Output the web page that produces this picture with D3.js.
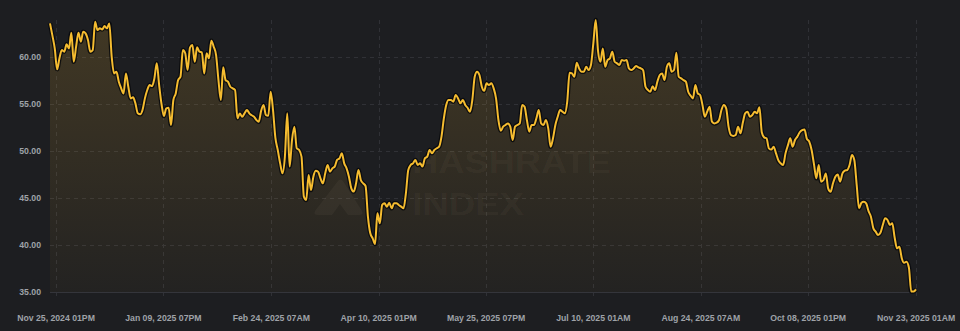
<!DOCTYPE html>
<html>
<head>
<meta charset="utf-8">
<script src="https://cdn.jsdelivr.net/npm/d3@7"></script>
<style>
  html, body { margin: 0; padding: 0; background: #1d1e21; }
  svg { display: block; }
  .tick-label { font-family: "Liberation Sans", Arial, sans-serif; font-size: 8.7px; font-weight: 700; fill: #9fa2a8; }
</style>
</head>
<body>
<div id="chart"></div>
<script>
// daily hashprice values, one per day starting at startDate
const startDate = "2024-11-23";
const values = [
  63.58, 62.3, 60.92, 58.69, 59.9, 60.74, 60.57, 61.35, 60.92, 62.59,
  59.5, 61.1, 62.59, 61.63, 62.7, 62.52, 61.81, 60.57, 60.74, 63.76,
  62.87, 63.05, 62.94, 63.3, 63.05, 63.58, 60.04, 58.26, 58.44, 57.38,
  56.67, 56.13, 58.26, 56.84, 55.6, 55.71, 55.07, 54.01, 53.9, 54.36,
  55.6, 56.49, 57.02, 56.91, 57.73, 59.33, 57.02, 55.0, 53.72, 54.54,
  54.6, 52.77, 55.43, 56.13, 57.55, 57.91, 60.74, 60.4, 58.62, 61.0,
  61.28, 59.5, 61.03, 60.57, 60.5, 58.26, 60.39, 59.86, 61.74, 61.1,
  60.21, 57.55, 55.43, 58.9, 57.55, 57.38, 56.84, 56.67, 56.49, 53.48,
  54.0, 53.65, 54.01, 54.36, 54.01, 53.8, 53.65, 53.3, 53.12, 54.3,
  54.9, 53.83, 53.74, 56.31, 54.36, 51.4, 50.11, 48.69, 47.63, 49.4,
  54.01, 48.34, 51.17, 52.59, 50.29, 50.11, 49.4, 45.14, 44.79, 47.45,
  45.85, 47.27, 47.9, 47.8, 47.09, 46.56, 47.63, 48.51, 47.8, 48.16,
  48.34, 49.05, 49.22, 49.75, 48.69, 48.16, 47.27, 46.03, 45.68, 46.56,
  47.98, 46.92, 46.56, 46.28, 43.02, 41.24, 40.71, 40.11, 43.37, 42.31,
  44.26, 44.43, 44.08, 44.5, 43.9, 44.43, 44.43, 44.26, 44.08, 43.9,
  45.5, 47.98, 48.51, 48.69, 49.05, 48.51, 48.69, 48.34, 49.22, 49.4,
  50.11, 49.75, 50.11, 50.29, 50.46, 51.53, 53.48, 54.9, 55.43, 55.43,
  55.25, 55.96, 55.6, 55.07, 55.43, 54.9, 54.6, 54.19, 55.43, 57.91,
  58.44, 58.09, 56.84, 56.4, 57.2, 57.02, 57.2, 56.67, 55.6, 53.3,
  52.16, 52.59, 52.77, 52.94, 52.59, 51.17, 52.59, 52.77, 52.94, 54.89,
  54.72, 53.3, 52.06, 52.77, 52.77, 53.48, 54.36, 52.94, 52.77, 53.3,
  52.41, 50.46, 51.35, 52.77, 53.65, 54.36, 54.18, 54.01, 55.25, 58.33,
  58.26, 57.91, 59.4, 58.79, 58.44, 58.44, 58.97, 58.62, 59.15, 61.45,
  63.94, 60.6, 59.5, 60.92, 58.97, 59.68, 59.86, 60.57, 59.5, 59.33,
  59.15, 59.68, 59.61, 59.68, 58.79, 58.62, 58.79, 59.04, 58.9, 58.79,
  58.6, 56.84, 56.49, 56.31, 56.9, 56.49, 57.38, 58.09, 58.26, 57.55,
  58.97, 59.33, 58.44, 58.62, 60.46, 57.9, 57.73, 57.55, 57.38, 56.31,
  55.9, 55.6, 57.02, 56.14, 55.96, 54.9, 53.65, 54.19, 54.72, 53.12,
  52.94, 53.01, 53.3, 54.36, 54.89, 54.54, 52.59, 51.7, 51.6, 51.7,
  52.59, 51.88, 53.0, 54.01, 54.19, 53.65, 53.83, 54.19, 54.01, 54.65,
  52.0, 51.45, 51.35, 50.28, 50.15, 50.46, 49.75, 49.0, 48.69, 48.51,
  49.75, 50.6, 51.35, 50.46, 51.17, 51.53, 52.0, 52.23, 52.3, 51.3,
  51.0, 50.11, 48.6, 47.09, 48.51, 46.74, 46.92, 47.62, 46.0, 45.67,
  46.56, 47.27, 47.5, 46.74, 47.62, 47.91, 47.98, 48.51, 49.58, 49.04,
  46.4, 43.9, 44.5, 44.61, 44.43, 43.6, 43.01, 41.8, 41.42, 41.06,
  41.3, 42.13, 42.84, 42.66, 42.13, 42.31, 40.8, 39.65, 39.82, 38.6,
  38.1, 38.23, 37.6, 35.04, 35.04, 35.28
];

// axis labels
const tickTimes = [
  "2024-11-25T13:00", "2025-01-09T19:00", "2025-02-24T07:00",
  "2025-04-10T13:00", "2025-05-25T19:00", "2025-07-10T01:00",
  "2025-08-24T07:00", "2025-10-08T13:00", "2025-11-23T01:00"
];
const yTicks = [35, 40, 45, 50, 55, 60];

const W = 960, H = 331;
const plot = { left: 50, right: 916, top: 20, bottom: 292 };

const parseTime = d3.utcParse("%Y-%m-%dT%H:%M");
const start = d3.utcParse("%Y-%m-%d")(startDate);
const data = values.map((v, i) => ({ date: d3.utcDay.offset(start, i), value: v }));

const x = d3.scaleUtc()
  .domain([start, d3.utcDay.offset(start, values.length - 1)])
  .range([plot.left, plot.right]);
const y = d3.scaleLinear()
  .domain([35, d3.max(values)])
  .range([plot.bottom, plot.top]);

const svg = d3.select("#chart").append("svg")
  .attr("width", W).attr("height", H);

const defs = svg.append("defs");
const grad = defs.append("linearGradient")
  .attr("id", "fill-grad")
  .attr("gradientUnits", "userSpaceOnUse")
  .attr("x1", 0).attr("x2", 0)
  .attr("y1", plot.top).attr("y2", plot.bottom);
grad.append("stop").attr("offset", 0).attr("stop-color", "#f3b733").attr("stop-opacity", 0.17);
grad.append("stop").attr("offset", 1).attr("stop-color", "#f3b733").attr("stop-opacity", 0.03);

// grid: horizontal dashed lines at the y ticks
svg.append("g").selectAll("line").data(yTicks.filter(t => t !== 35)).join("line")
  .attr("x1", plot.left).attr("x2", plot.right)
  .attr("y1", d => Math.round(y(d)) + 0.5).attr("y2", d => Math.round(y(d)) + 0.5)
  .attr("stroke", "#303136").attr("stroke-dasharray", "4,4");

// vertical dashed lines (run a little past the axis, like tick marks)
const tickDates = tickTimes.map(parseTime);
svg.append("g").selectAll("line").data(tickDates).join("line")
  .attr("x1", d => Math.round(x(d)) + 0.5).attr("x2", d => Math.round(x(d)) + 0.5)
  .attr("y1", plot.top).attr("y2", plot.bottom + 7)
  .attr("stroke", "#303136").attr("stroke-dasharray", "4,4");

// bottom axis line
svg.append("line")
  .attr("x1", plot.left).attr("x2", plot.right)
  .attr("y1", plot.bottom + 0.5).attr("y2", plot.bottom + 0.5)
  .attr("stroke", "#34353b");

// watermark
const wm = svg.append("g").attr("fill", "#fff3d0").attr("fill-opacity", 0.045);
wm.append("path")
  .attr("d", "M338,181 Q340,178 343,181 L362,211 Q364,215 359,215 L348,215 L340,204 L332,215 L318,215 Q313,215 315,211 Z");
wm.append("text")
  .attr("x", 412).attr("y", 173)
  .attr("textLength", 199).attr("lengthAdjust", "spacingAndGlyphs")
  .style("font", "700 32px 'Liberation Sans', Arial, sans-serif")
  .text("HASHRATE");
wm.append("text")
  .attr("x", 412).attr("y", 215)
  .attr("textLength", 112).attr("lengthAdjust", "spacingAndGlyphs")
  .style("font", "700 32px 'Liberation Sans', Arial, sans-serif")
  .text("INDEX");

// area + line
const area = d3.area()
  .x(d => x(d.date)).y0(plot.bottom).y1(d => y(d.value))
  .curve(d3.curveMonotoneX);
const line = d3.line()
  .x(d => x(d.date)).y(d => y(d.value))
  .curve(d3.curveMonotoneX);

svg.append("path").datum(data)
  .attr("d", area).attr("fill", "url(#fill-grad)");
svg.append("path").datum(data)
  .attr("d", line).attr("fill", "none")
  .attr("stroke", "#07080b").attr("stroke-opacity", 0.85)
  .attr("stroke-width", 4.5).attr("stroke-linejoin", "round");
svg.append("path").datum(data)
  .attr("d", line).attr("fill", "none")
  .attr("stroke", "#f5bc30").attr("stroke-width", 2)
  .attr("stroke-linejoin", "round");

// y labels
svg.append("g").selectAll("text").data(yTicks).join("text")
  .attr("class", "tick-label")
  .attr("x", 41).attr("y", d => y(d) + 3)
  .attr("text-anchor", "end")
  .text(d => d.toFixed(2));

// x labels
const fmt = d3.utcFormat("%b %d, %Y %I%p");
svg.append("g").selectAll("text").data(tickDates).join("text")
  .attr("class", "tick-label")
  .attr("x", d => x(d)).attr("y", 321)
  .attr("text-anchor", "middle")
  .text(d => fmt(d));
</script>
</body>
</html>
